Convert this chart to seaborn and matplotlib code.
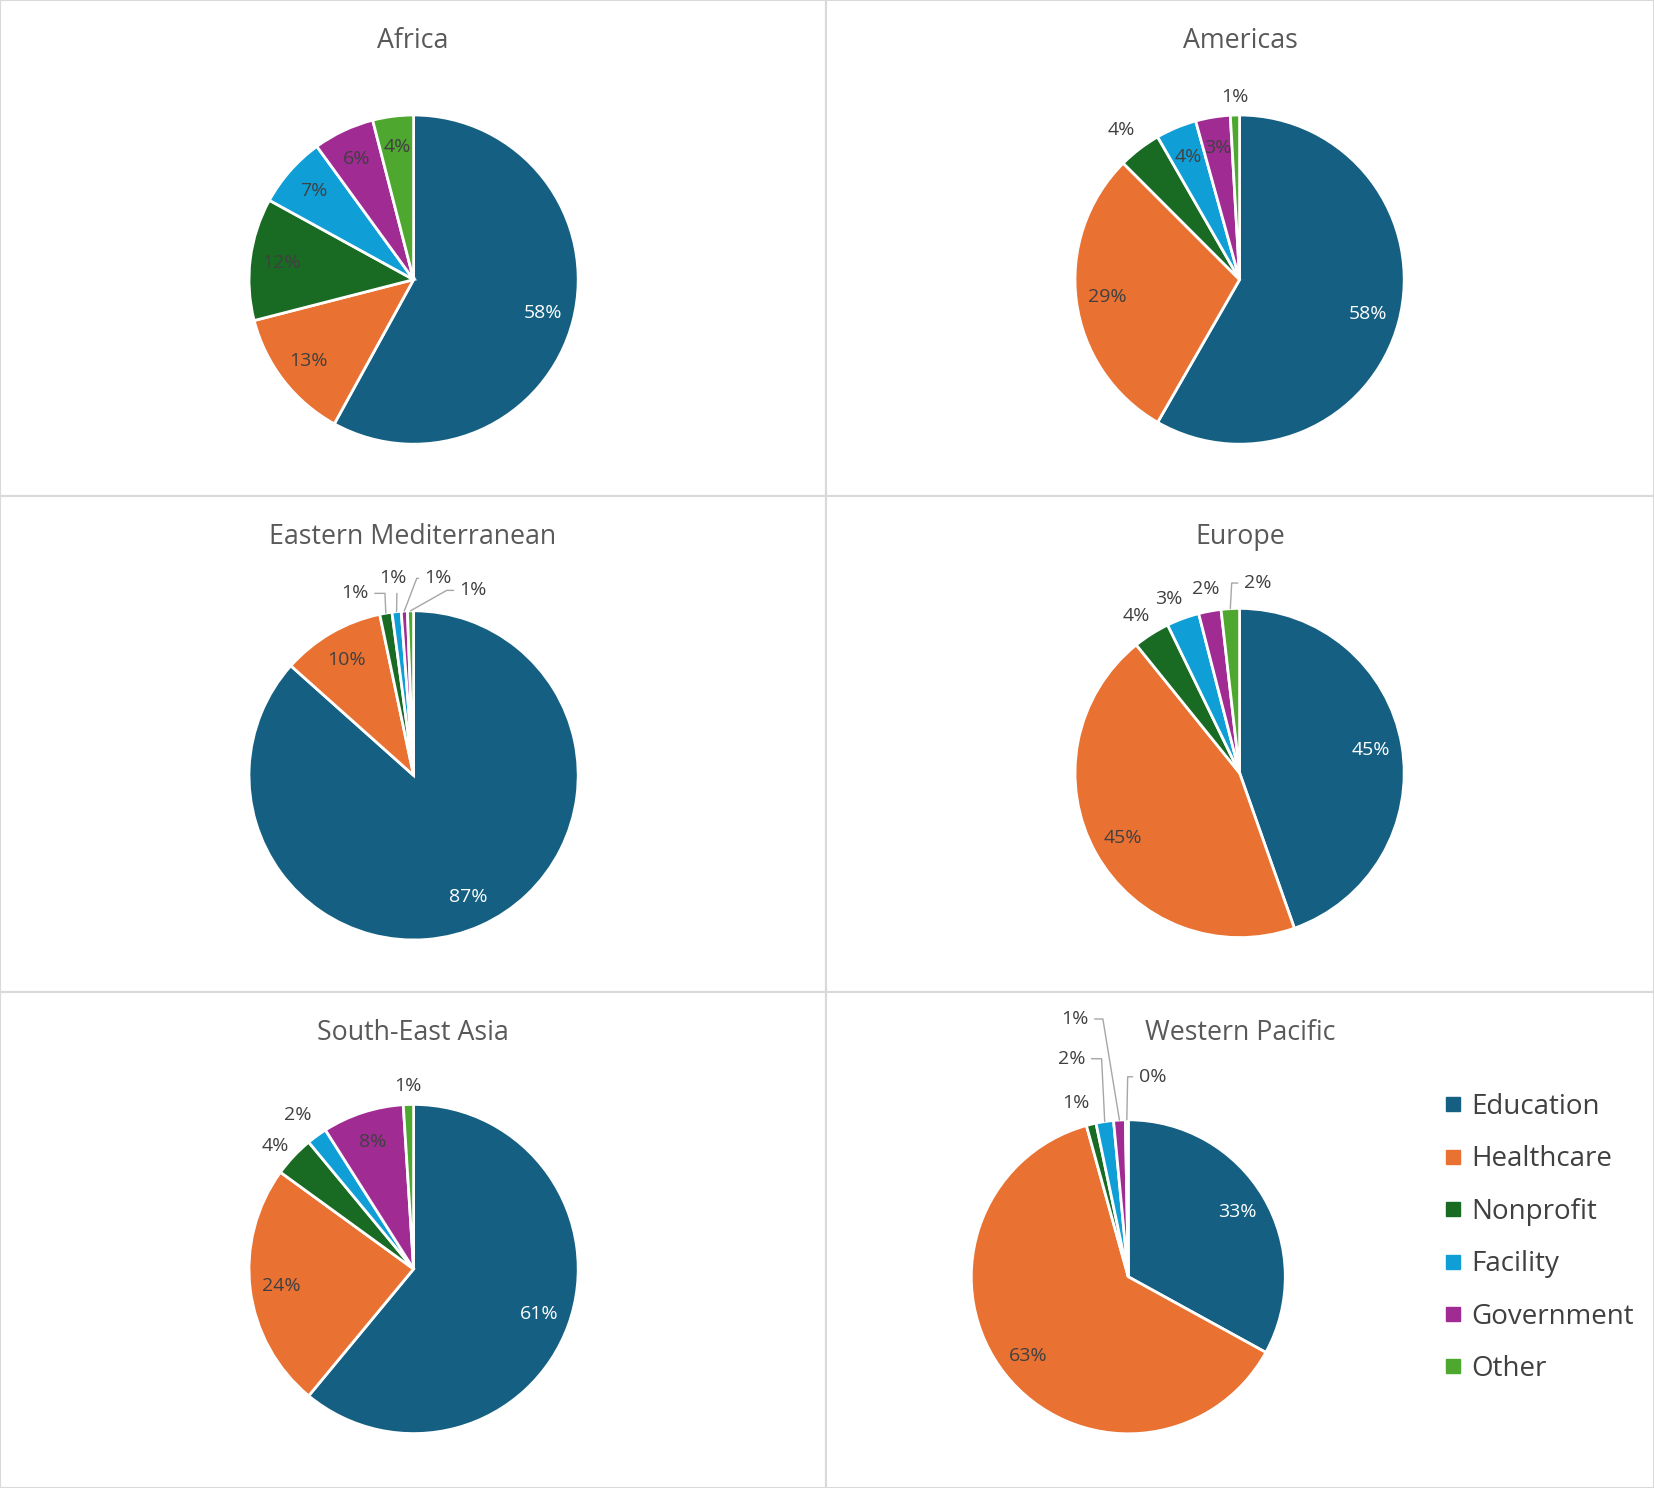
import numpy as np
import matplotlib
matplotlib.use("Agg")
import matplotlib.pyplot as plt
import seaborn as sns
from matplotlib.lines import Line2D

sns.set_theme(style="white")
plt.rcParams['font.family'] = ['Open Sans', 'DejaVu Sans']

# Data (share of each sector, %)
categories = ['Education', 'Healthcare', 'Nonprofit', 'Facility', 'Government', 'Other']
colors = ['#156082', '#E97132', '#196B24', '#0F9ED5', '#A02B93', '#4EA72E']

regions = ['Africa', 'Americas', 'Eastern Mediterranean', 'Europe',
           'South-East Asia', 'Western Pacific']

africa = [58, 13, 12, 7, 6, 4]
americas = [58.3, 29.2, 4.2, 4.0, 3.4, 0.9]
eastern_med = [86.6, 10.1, 1.2, 0.9, 0.6, 0.6]
europe = [44.6, 44.6, 3.6, 3.2, 2.2, 1.8]
south_east_asia = [61, 24, 4, 2, 8, 1]
western_pacific = [33, 62.7, 1.0, 1.8, 1.2, 0.3]

values = [africa, americas, eastern_med, europe, south_east_asia, western_pacific]

# Layout: pie centre (px inside the panel) and radius
pie_geom = {
    'Africa': (413.6, 279.6, 164.6),
    'Americas': (413.6, 279.6, 164.6),
    'Eastern Mediterranean': (413.6, 279.4, 164.6),
    'Europe': (413.6, 277.0, 164.6),
    'South-East Asia': (413.6, 277.0, 164.6),
    'Western Pacific': (302.3, 284.8, 157.0),
}

# Outside labels: (x, y) in radius units, optional third value = x of leader elbow
outside = {
    'Africa': {},
    'Americas': {'Nonprofit': (-0.716, 0.909), 'Other': (-0.028, 1.11)},
    'Eastern Mediterranean': {'Nonprofit': (-0.356, 1.106, -0.174),
                              'Facility': (-0.123, 1.197, -0.10),
                              'Government': (0.15, 1.197, 0.019),
                              'Other': (0.363, 1.124, 0.201)},
    'Europe': {'Nonprofit': (-0.628, 0.955), 'Facility': (-0.43, 1.06),
               'Government': (-0.205, 1.12), 'Other': (0.109, 1.154, -0.048)},
    'South-East Asia': {'Nonprofit': (-0.84, 0.75), 'Facility': (-0.705, 0.936),
                        'Other': (-0.032, 1.109)},
    'Western Pacific': {'Nonprofit': (-0.333, 1.104),
                        'Facility': (-0.361, 1.389, -0.17),
                        'Government': (-0.340, 1.642, -0.162),
                        'Other': (0.154, 1.274, -0.004)},
}

FW, FH = 1654, 1488
col_edges = [0, 826, 1654]
row_edges = [0, 496, 992, 1488]
text_col = '#404040'
lab_size = 14

fig = plt.figure(figsize=(FW / 100, FH / 100), dpi=100)
fig.patch.set_facecolor('white')

for i, (region, vals) in enumerate(zip(regions, values)):
    row, col = i // 2, i % 2
    x0, x1 = col_edges[col], col_edges[col + 1]
    y0, y1 = row_edges[row], row_edges[row + 1]
    W, H = x1 - x0, y1 - y0
    ax = fig.add_axes([x0 / FW, 1 - y1 / FH, W / FW, H / FH])

    wedges, _ = ax.pie(vals, colors=colors, startangle=90, counterclock=False,
                       wedgeprops=dict(edgecolor='white', linewidth=2))

    cx, cy, R = pie_geom[region]
    ax.set_aspect('auto')
    ax.set_xlim(-cx / R, (W - cx) / R)
    ax.set_ylim(-(H - cy) / R, cy / R)
    ax.set_frame_on(True)
    for s in ax.spines.values():
        s.set_color('#d9d9d9')
        s.set_linewidth(1.5)

    total = sum(vals)
    for w, cat, v in zip(wedges, categories, vals):
        txt = f"{round(v / total * 100):.0f}%"
        mid = np.deg2rad((w.theta1 + w.theta2) / 2)
        pos = outside[region].get(cat)
        if pos is None:
            c = 'white' if cat == 'Education' else text_col
            ax.text(0.81 * np.cos(mid), 0.81 * np.sin(mid), txt, ha='center',
                    va='center', fontsize=lab_size, color=c)
        elif len(pos) == 2:
            ax.text(pos[0], pos[1], txt, ha='center', va='center',
                    fontsize=lab_size, color=text_col)
        else:
            lx, ly, ex = pos
            xe, ye = np.cos(mid), np.sin(mid)
            angb = np.degrees(np.arctan2(ly - ye, ex - xe))
            ax.annotate(txt, xy=(xe, ye), xytext=(lx, ly), ha='center', va='center',
                        fontsize=lab_size, color=text_col,
                        arrowprops=dict(arrowstyle='-', color='#a6a6a6', lw=1,
                                        shrinkA=2, shrinkB=0,
                                        connectionstyle=f"angle,angleA=0,angleB={angb},rad=0"))

    ax.text(0.5, 1 - 41 / H, region, transform=ax.transAxes, ha='center',
            va='center', fontsize=19.3, color='#595959')

handles = [Line2D([], [], marker='s', linestyle='none', markersize=9.5,
                  color=c) for c in colors]
leg = fig.legend(handles, categories, loc='center left',
                 bbox_to_anchor=(1446 / FW, 1 - 1238 / FH), borderpad=0,
                 borderaxespad=0, handlelength=0.5, handletextpad=0.42,
                 labelspacing=0.88, fontsize=20, frameon=False)
for t in leg.get_texts():
    t.set_color(text_col)

fig.savefig('out.png', dpi=100, facecolor='white')
